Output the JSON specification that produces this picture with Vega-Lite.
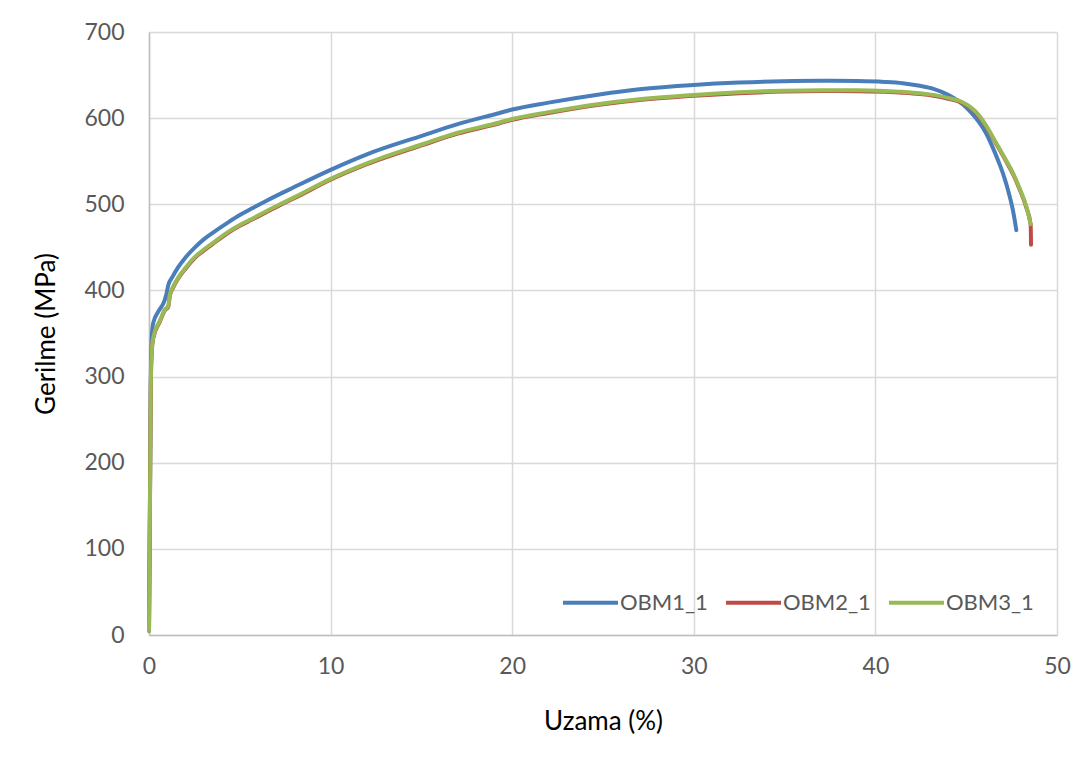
{
  "$schema": "https://vega.github.io/schema/vega-lite/v6.json",
  "autosize": {"type": "none"},
  "width": 908,
  "height": 603,
  "padding": {"left": 149, "top": 32, "right": 34, "bottom": 127},
  "background": "white",
  "config": {
    "font": "Lato",
    "view": {"stroke": null},
    "axis": {
      "labelFont": "Lato",
      "labelFontSize": 23,
      "labelColor": "#595959",
      "labelFlush": false,
      "titleFont": "Lato",
      "titleFontSize": 26,
      "titleFontWeight": "normal",
      "titleColor": "#000000",
      "gridColor": "#d9d9d9",
      "gridWidth": 1.5,
      "domainColor": "#bfbfbf",
      "domainWidth": 1.5,
      "ticks": false
    }
  },
  "data": {
    "values": [
      {"s": "OBM1_1", "x": 0, "y": 5},
      {"s": "OBM1_1", "x": 0.05, "y": 150},
      {"s": "OBM1_1", "x": 0.1, "y": 300},
      {"s": "OBM1_1", "x": 0.15, "y": 345},
      {"s": "OBM1_1", "x": 0.23, "y": 362},
      {"s": "OBM1_1", "x": 0.5, "y": 375},
      {"s": "OBM1_1", "x": 0.85, "y": 388},
      {"s": "OBM1_1", "x": 0.95, "y": 395},
      {"s": "OBM1_1", "x": 1.06, "y": 406},
      {"s": "OBM1_1", "x": 1.3, "y": 416},
      {"s": "OBM1_1", "x": 1.61, "y": 427},
      {"s": "OBM1_1", "x": 2, "y": 438},
      {"s": "OBM1_1", "x": 2.53, "y": 450},
      {"s": "OBM1_1", "x": 3, "y": 459},
      {"s": "OBM1_1", "x": 3.45, "y": 466},
      {"s": "OBM1_1", "x": 4.36, "y": 479},
      {"s": "OBM1_1", "x": 5, "y": 487.5},
      {"s": "OBM1_1", "x": 5.65, "y": 495},
      {"s": "OBM1_1", "x": 6.5, "y": 504.5},
      {"s": "OBM1_1", "x": 8, "y": 520},
      {"s": "OBM1_1", "x": 10, "y": 540},
      {"s": "OBM1_1", "x": 12, "y": 558},
      {"s": "OBM1_1", "x": 15.1, "y": 580},
      {"s": "OBM1_1", "x": 17, "y": 593},
      {"s": "OBM1_1", "x": 19.3, "y": 606},
      {"s": "OBM1_1", "x": 20, "y": 610},
      {"s": "OBM1_1", "x": 22, "y": 618},
      {"s": "OBM1_1", "x": 24.8, "y": 627.5},
      {"s": "OBM1_1", "x": 27, "y": 633.5},
      {"s": "OBM1_1", "x": 30, "y": 638.6},
      {"s": "OBM1_1", "x": 32.5, "y": 641.3},
      {"s": "OBM1_1", "x": 34.9, "y": 642.8},
      {"s": "OBM1_1", "x": 37, "y": 643.3},
      {"s": "OBM1_1", "x": 39, "y": 643},
      {"s": "OBM1_1", "x": 40.5, "y": 642},
      {"s": "OBM1_1", "x": 41.5, "y": 640.5},
      {"s": "OBM1_1", "x": 42.45, "y": 637.5},
      {"s": "OBM1_1", "x": 43.2, "y": 634},
      {"s": "OBM1_1", "x": 44, "y": 627},
      {"s": "OBM1_1", "x": 44.98, "y": 613},
      {"s": "OBM1_1", "x": 45.5, "y": 601},
      {"s": "OBM1_1", "x": 46.08, "y": 583},
      {"s": "OBM1_1", "x": 46.5, "y": 564},
      {"s": "OBM1_1", "x": 46.81, "y": 548},
      {"s": "OBM1_1", "x": 47.1, "y": 531},
      {"s": "OBM1_1", "x": 47.36, "y": 512},
      {"s": "OBM1_1", "x": 47.6, "y": 490},
      {"s": "OBM1_1", "x": 47.76, "y": 470},

      {"s": "OBM2_1", "x": 0, "y": 5},
      {"s": "OBM2_1", "x": 0.05, "y": 140},
      {"s": "OBM2_1", "x": 0.1, "y": 290},
      {"s": "OBM2_1", "x": 0.15, "y": 329},
      {"s": "OBM2_1", "x": 0.23, "y": 344},
      {"s": "OBM2_1", "x": 0.6, "y": 364},
      {"s": "OBM2_1", "x": 0.88, "y": 377},
      {"s": "OBM2_1", "x": 1.06, "y": 381},
      {"s": "OBM2_1", "x": 1.15, "y": 394},
      {"s": "OBM2_1", "x": 1.3, "y": 402},
      {"s": "OBM2_1", "x": 1.61, "y": 414},
      {"s": "OBM2_1", "x": 2, "y": 425},
      {"s": "OBM2_1", "x": 2.53, "y": 438},
      {"s": "OBM2_1", "x": 3, "y": 446},
      {"s": "OBM2_1", "x": 3.45, "y": 453},
      {"s": "OBM2_1", "x": 4.36, "y": 467},
      {"s": "OBM2_1", "x": 5, "y": 475},
      {"s": "OBM2_1", "x": 5.65, "y": 482},
      {"s": "OBM2_1", "x": 7.21, "y": 499},
      {"s": "OBM2_1", "x": 8, "y": 507},
      {"s": "OBM2_1", "x": 10, "y": 528.5},
      {"s": "OBM2_1", "x": 12, "y": 546.5},
      {"s": "OBM2_1", "x": 15.1, "y": 569},
      {"s": "OBM2_1", "x": 17, "y": 582},
      {"s": "OBM2_1", "x": 19.3, "y": 594},
      {"s": "OBM2_1", "x": 20, "y": 598},
      {"s": "OBM2_1", "x": 22, "y": 606},
      {"s": "OBM2_1", "x": 24.8, "y": 615.5},
      {"s": "OBM2_1", "x": 27, "y": 621},
      {"s": "OBM2_1", "x": 30, "y": 626},
      {"s": "OBM2_1", "x": 32.5, "y": 629},
      {"s": "OBM2_1", "x": 34.9, "y": 630.8},
      {"s": "OBM2_1", "x": 37, "y": 631.5},
      {"s": "OBM2_1", "x": 39, "y": 631.3},
      {"s": "OBM2_1", "x": 40.5, "y": 630.5},
      {"s": "OBM2_1", "x": 41.5, "y": 629.5},
      {"s": "OBM2_1", "x": 42.45, "y": 628},
      {"s": "OBM2_1", "x": 43.2, "y": 626},
      {"s": "OBM2_1", "x": 44, "y": 622.5},
      {"s": "OBM2_1", "x": 44.8, "y": 617.5},
      {"s": "OBM2_1", "x": 45.5, "y": 607},
      {"s": "OBM2_1", "x": 46.08, "y": 591},
      {"s": "OBM2_1", "x": 46.6, "y": 572},
      {"s": "OBM2_1", "x": 47.17, "y": 551},
      {"s": "OBM2_1", "x": 47.6, "y": 534},
      {"s": "OBM2_1", "x": 47.91, "y": 519},
      {"s": "OBM2_1", "x": 48.3, "y": 497},
      {"s": "OBM2_1", "x": 48.55, "y": 476},
      {"s": "OBM2_1", "x": 48.57, "y": 453},

      {"s": "OBM3_1", "x": 0, "y": 5},
      {"s": "OBM3_1", "x": 0.05, "y": 140},
      {"s": "OBM3_1", "x": 0.1, "y": 290},
      {"s": "OBM3_1", "x": 0.15, "y": 330},
      {"s": "OBM3_1", "x": 0.23, "y": 345},
      {"s": "OBM3_1", "x": 0.6, "y": 365},
      {"s": "OBM3_1", "x": 0.88, "y": 378},
      {"s": "OBM3_1", "x": 1.06, "y": 382},
      {"s": "OBM3_1", "x": 1.15, "y": 395},
      {"s": "OBM3_1", "x": 1.3, "y": 403},
      {"s": "OBM3_1", "x": 1.61, "y": 415},
      {"s": "OBM3_1", "x": 2, "y": 426},
      {"s": "OBM3_1", "x": 2.53, "y": 439},
      {"s": "OBM3_1", "x": 3, "y": 447},
      {"s": "OBM3_1", "x": 3.45, "y": 454},
      {"s": "OBM3_1", "x": 4.36, "y": 468},
      {"s": "OBM3_1", "x": 5, "y": 476},
      {"s": "OBM3_1", "x": 5.65, "y": 483},
      {"s": "OBM3_1", "x": 7.21, "y": 500},
      {"s": "OBM3_1", "x": 8, "y": 508},
      {"s": "OBM3_1", "x": 10, "y": 529.5},
      {"s": "OBM3_1", "x": 12, "y": 547.5},
      {"s": "OBM3_1", "x": 15.1, "y": 570},
      {"s": "OBM3_1", "x": 17, "y": 583},
      {"s": "OBM3_1", "x": 19.3, "y": 595},
      {"s": "OBM3_1", "x": 20, "y": 599},
      {"s": "OBM3_1", "x": 22, "y": 607},
      {"s": "OBM3_1", "x": 24.8, "y": 616.5},
      {"s": "OBM3_1", "x": 27, "y": 622},
      {"s": "OBM3_1", "x": 30, "y": 627},
      {"s": "OBM3_1", "x": 32.5, "y": 630},
      {"s": "OBM3_1", "x": 34.9, "y": 631.8},
      {"s": "OBM3_1", "x": 37, "y": 632.5},
      {"s": "OBM3_1", "x": 39, "y": 632.3},
      {"s": "OBM3_1", "x": 40.5, "y": 631.5},
      {"s": "OBM3_1", "x": 41.5, "y": 630.5},
      {"s": "OBM3_1", "x": 42.45, "y": 629},
      {"s": "OBM3_1", "x": 43.2, "y": 627},
      {"s": "OBM3_1", "x": 44, "y": 623.5},
      {"s": "OBM3_1", "x": 44.8, "y": 618.5},
      {"s": "OBM3_1", "x": 45.5, "y": 608},
      {"s": "OBM3_1", "x": 46.08, "y": 592},
      {"s": "OBM3_1", "x": 46.6, "y": 573},
      {"s": "OBM3_1", "x": 47.17, "y": 552},
      {"s": "OBM3_1", "x": 47.6, "y": 535},
      {"s": "OBM3_1", "x": 47.91, "y": 520},
      {"s": "OBM3_1", "x": 48.3, "y": 498},
      {"s": "OBM3_1", "x": 48.55, "y": 477}
    ]
  },
  "mark": {"type": "line", "strokeWidth": 4, "interpolate": "monotone", "strokeCap": "round", "strokeJoin": "round"},
  "encoding": {
    "x": {
      "field": "x", "type": "quantitative",
      "scale": {"domain": [0, 50], "nice": false},
      "axis": {"values": [0, 10, 20, 30, 40, 50], "title": "Uzama (%)", "labelPadding": 20, "titlePadding": 30, "grid": true}
    },
    "y": {
      "field": "y", "type": "quantitative",
      "scale": {"domain": [0, 700], "nice": false},
      "axis": {"values": [0, 100, 200, 300, 400, 500, 600, 700], "title": "Gerilme (MPa)", "labelPadding": 25, "titlePadding": 24, "grid": true}
    },
    "color": {
      "field": "s", "type": "nominal",
      "scale": {"domain": ["OBM1_1", "OBM2_1", "OBM3_1"], "range": ["#4a7ebb", "#be4b48", "#98b954"]},
      "legend": {
        "title": null,
        "orient": "none",
        "direction": "horizontal",
        "legendX": 412,
        "legendY": 541,
        "padding": 0,
        "symbolType": "stroke",
        "symbolSize": 3025,
        "symbolStrokeWidth": 4,
        "labelFont": "Lato",
        "labelFontSize": 22,
        "labelColor": "#595959",
        "labelOffset": 0,
        "columnPadding": 10,
        "labelLimit": 200
      }
    }
  }
}
